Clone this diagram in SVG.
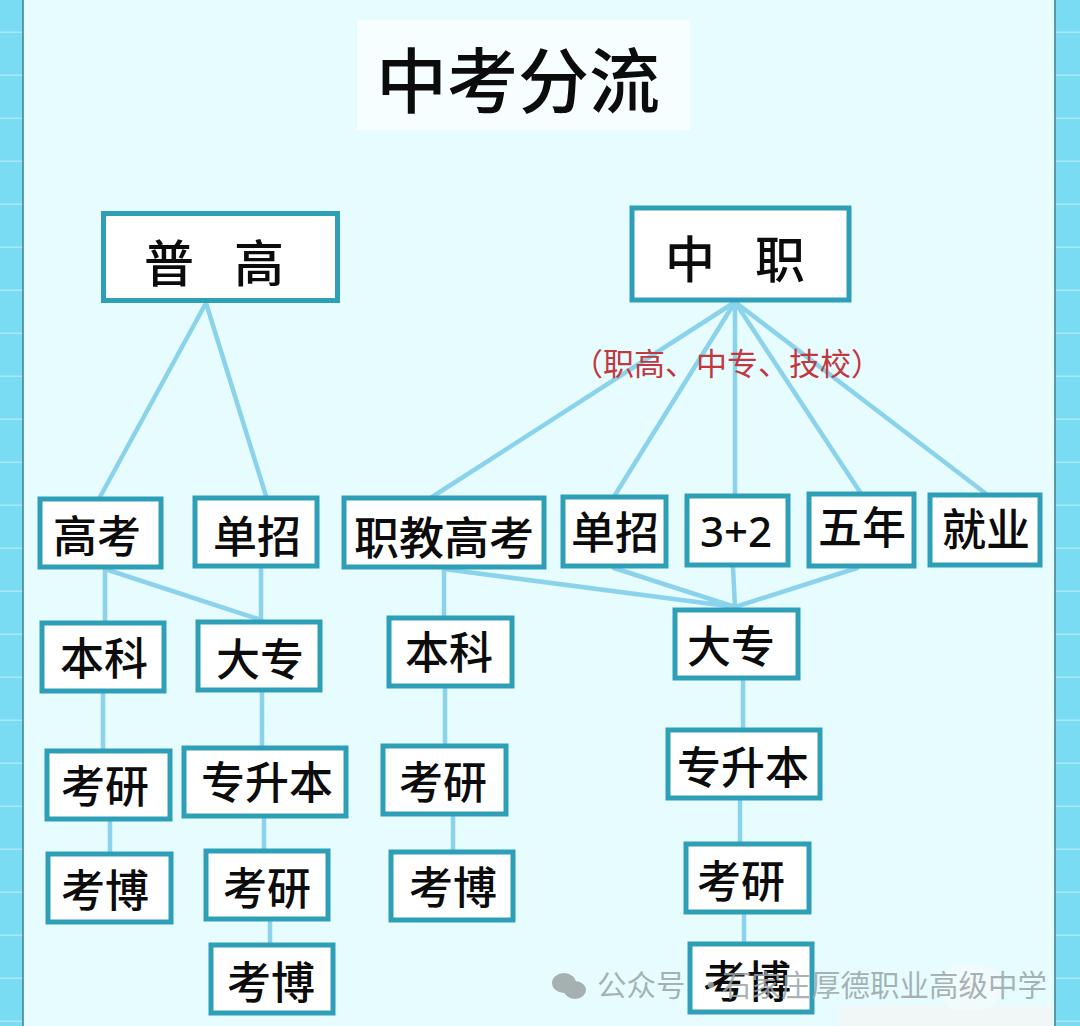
<svg xmlns="http://www.w3.org/2000/svg" width="1080" height="1026" viewBox="0 0 1080 1026">
<defs>
<pattern id="grid" width="40" height="43" patternUnits="userSpaceOnUse" y="-10"><rect width="40" height="43" fill="#7adcf2"/><rect y="41.500" width="40" height="2" fill="#a8e9f7"/></pattern>
</defs>
<style>
.n{fill:#fff;stroke:#2f9fb8;stroke-width:5}
.t{font-family:"Noto Sans CJK SC","Noto Sans",sans-serif;font-size:44px;font-weight:500;fill:#0c0c0c;text-anchor:middle;dominant-baseline:central}
.c{fill:none;stroke:#8bd3ea;stroke-width:4.500;stroke-linecap:round}
</style>
<rect width="1080" height="1026" fill="url(#grid)"/>
<rect x="23" y="-2" width="1032" height="1030" fill="#e6fcff" stroke="#3d7f90" stroke-width="1.500"/>
<rect x="357" y="20" width="333" height="110" fill="#f6feff"/>
<text class="t" x="518" y="76" style="font-size:71px;font-weight:500">中考分流</text>
<g id="connectors">
<path class="c" d="M206 303L100 497M206 303L266 496"/>
<path class="c" d="M735 302L432 497M735 302L615 495M735 302L735 494M735 302L860 492M735 302L985 493"/>
<path class="c" d="M105 569V622M105 569L261 620M261 568V621M103 693V750M262 692V747M110 821V853M264 818V850M270 921V944"/>
<path class="c" d="M444 569V617M444 569L735 607M614 568L735 607M733 567L735 607M857 568L735 607M445 688V745M453 816V851"/>
<path class="c" d="M743 680V729M740 800V843M744 914V943"/>
</g>
<g id="n-pugao"><rect class="n" x="103.500" y="213.500" width="234" height="87"/><text class="t" y="260" style="font-size:50px"><tspan x="169">普</tspan><tspan x="259">高</tspan></text></g>
<g id="n-zhongzhi"><rect class="n" x="632" y="208" width="217" height="92"/><text class="t" y="256" style="font-size:50px"><tspan x="690">中</tspan><tspan x="780">职</tspan></text></g>
<text x="727" y="361" text-anchor="middle" dominant-baseline="central" font-family="&quot;Noto Sans CJK SC&quot;,sans-serif" font-size="31" fill="#c2383f">（职高、中专、技校）</text>
<g id="n-gaokao"><rect class="n" x="40" y="499" width="121" height="68"/><text class="t" x="97" y="534">高考</text></g>
<g id="n-danzhao1"><rect class="n" x="195" y="498" width="122" height="68"/><text class="t" x="257" y="534">单招</text></g>
<g id="n-zhijiao"><rect class="n" x="344" y="498" width="200" height="69"/><text class="t" x="444" y="535" style="font-size:45px">职教高考</text></g>
<g id="n-danzhao2"><rect class="n" x="563" y="497" width="103" height="69"/><text class="t" x="615" y="530">单招</text></g>
<g id="n-32"><rect class="n" x="687" y="496" width="101" height="69"/><text class="t" x="736" y="530" style="font-family:'Noto Sans',sans-serif;font-size:42px">3+2</text></g>
<g id="n-wunian"><rect class="n" x="809" y="494" width="105" height="72"/><text class="t" x="862" y="525">五年</text></g>
<g id="n-jiuye"><rect class="n" x="930" y="495" width="110" height="70"/><text class="t" x="986" y="527">就业</text></g>
<g id="n-benke1"><rect class="n" x="42" y="623" width="122" height="68"/><text class="t" x="104" y="656">本科</text></g>
<g id="n-dazhuan1"><rect class="n" x="198" y="622" width="122" height="68"/><text class="t" x="260" y="657">大专</text></g>
<g id="n-benke2"><rect class="n" x="389" y="618" width="123" height="68"/><text class="t" x="449" y="650">本科</text></g>
<g id="n-dazhuan2"><rect class="n" x="675" y="610" width="123" height="68"/><text class="t" x="731" y="644">大专</text></g>
<g id="n-kaoyan1"><rect class="n" x="47" y="751" width="123" height="68"/><text class="t" x="105" y="784">考研</text></g>
<g id="n-zsb1"><rect class="n" x="184" y="748" width="162" height="68"/><text class="t" x="267" y="780">专升本</text></g>
<g id="n-kaoyan2"><rect class="n" x="383" y="746" width="123" height="68"/><text class="t" x="443" y="780">考研</text></g>
<g id="n-zsb2"><rect class="n" x="668" y="730" width="152" height="68"/><text class="t" x="743" y="765">专升本</text></g>
<g id="n-kaobo1"><rect class="n" x="48" y="854" width="123" height="68"/><text class="t" x="105" y="888">考博</text></g>
<g id="n-kaoyan3"><rect class="n" x="206" y="851" width="122" height="68"/><text class="t" x="267" y="886">考研</text></g>
<g id="n-kaobo2"><rect class="n" x="391" y="852" width="122" height="68"/><text class="t" x="453" y="885">考博</text></g>
<g id="n-kaoyan4"><rect class="n" x="686" y="844" width="123" height="68"/><text class="t" x="741" y="879">考研</text></g>
<g id="n-kaobo3"><rect class="n" x="211" y="945" width="122" height="68"/><text class="t" x="271" y="980">考博</text></g>
<g id="n-kaobo4"><rect class="n" x="690" y="944" width="122" height="68"/><text class="t" x="747" y="979">考博</text></g>
<rect x="840" y="1006" width="212" height="20" fill="#f1f6f6"/>
<rect x="940" y="965" width="60" height="45" rx="20" fill="#f1fbfc"/>
<text y="983" dominant-baseline="central" font-family="&quot;Noto Sans CJK SC&quot;,sans-serif" font-size="29.500" fill="#9aa5a8" fill-opacity="0.85"><tspan x="597">公众号</tspan><tspan x="696">·</tspan><tspan x="722">石家庄</tspan><tspan x="811">厚德职业高级中学</tspan></text>
<g fill="#a5b0b1"><ellipse cx="564" cy="983" rx="12" ry="10"/><ellipse cx="575" cy="990" rx="11" ry="9"/></g>
</svg>
